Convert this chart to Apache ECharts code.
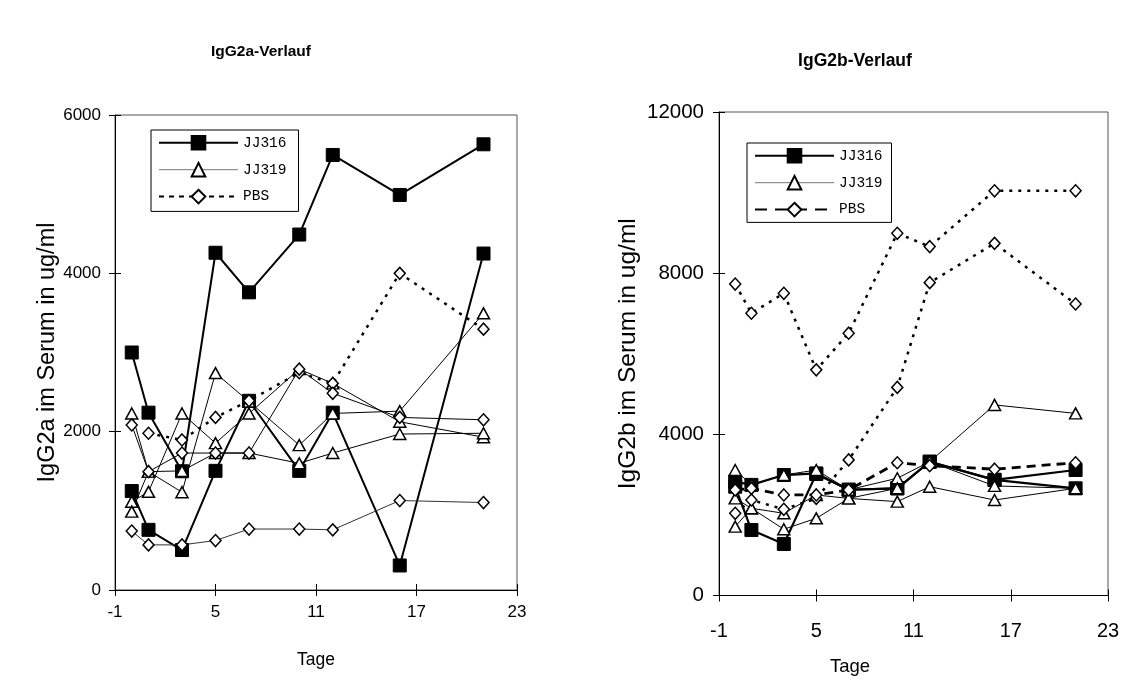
<!DOCTYPE html>
<html>
<head>
<meta charset="utf-8">
<script src="https://cdn.jsdelivr.net/npm/echarts@6/dist/echarts.min.js"></script>
<style>
  html, body { margin: 0; padding: 0; background: #fff; }
  #chart { width: 1130px; height: 684px; }
</style>
</head>
<body>
<div id="chart"></div>
<script>
// Sampling days (Tage)
const days = [0, 1, 3, 5, 7, 10, 12, 16, 21];

// IgG2a serum levels (ug/ml), one array per animal
const a_JJ316_1 = [3000, 2240, 1500, 4260, 3760, 4490, 5495, 4990, 5630];
const a_JJ316_2 = [1250, 760, 505, 1505, 2390, 1505, 2240, 310, 4250];
const a_JJ319_1 = [2230, 1495, 1235, 2740, 2380, 1830, 2230, 2260, 3495];
const a_JJ319_2 = [1115, 1240, 2230, 1855, 2230, 2790, 2610, 2125, 1930];
const a_JJ319_3 = [990, 1495, 1505, 1730, 1730, 1600, 1730, 1970, 1980];
const a_PBS_1 = [null, 1980, 1895, 2180, 2390, 2745, 2610, 4000, 3295];
const a_PBS_2 = [2085, 1495, 1730, 1730, 1730, 2790, 2485, 2180, 2150];
const a_PBS_3 = [745, 570, 570, 625, 770, 770, 760, 1130, 1105];

// IgG2b serum levels (ug/ml), one array per animal
const b_JJ316_1 = [2700, 1625, 1280, 3015, 2625, 2660, 3320, 2870, 3115];
const b_JJ316_2 = [2825, 2745, 2990, 3030, 2625, 2660, 3320, 2870, 2660];
const b_JJ319_1 = [3115, 2745, 2990, 3115, 2625, 2910, 3320, 4730, 4520];
const b_JJ319_2 = [2410, 2165, 2040, 2495, 2410, 2660, 3320, 2720, 2660];
const b_JJ319_3 = [1710, 2165, 1645, 1915, 2410, 2330, 2700, 2370, 2660];
const b_PBS_1 = [7730, 7005, 7500, 5600, 6510, 8990, 8660, 10045, 10045];
const b_PBS_2 = [2040, 2370, 2140, 2410, 3365, 5165, 7765, 8740, 7235];
const b_PBS_3 = [2620, 2660, 2495, 2495, 2620, 3295, 3220, 3135, 3295];

// Axis ranges
const xRange = { min: -1, max: 23, step: 6 };
const yRangeA = { min: 0, max: 6000, step: 2000 };
const yRangeB = { min: 0, max: 12000, step: 4000 };

const groups = ['JJ316', 'JJ319', 'PBS'];
const titles = ['IgG2a-Verlauf', 'IgG2b-Verlauf'];
const yNames = ['IgG2a im Serum in ug/ml', 'IgG2b im Serum in ug/ml'];
const xName = 'Tage';

const SANS = 'Liberation Sans, Arial, sans-serif';
const MONO = 'Liberation Mono, Courier New, monospace';

const markers = {
  JJ316: { symbol: 'rect', symbolSize: 13, itemStyle: { color: '#000', borderColor: '#000', borderWidth: 1 } },
  JJ319: { symbol: 'triangle', symbolSize: [12, 11], itemStyle: { color: '#fff', borderColor: '#000', borderWidth: 1.5 } },
  PBS:   { symbol: 'diamond', symbolSize: [11, 12], itemStyle: { color: '#fff', borderColor: '#000', borderWidth: 1.5 } }
};

function points(vals) { return days.map((d, i) => [d, vals[i]]); }

function line(name, vals, axis, lineStyle) {
  const m = markers[name];
  return {
    type: 'line', name: name,
    xAxisIndex: axis, yAxisIndex: axis,
    data: points(vals),
    symbol: m.symbol, symbolSize: m.symbolSize,
    showAllSymbol: true,
    itemStyle: m.itemStyle,
    lineStyle: Object.assign({ color: '#000' }, lineStyle),
    connectNulls: false,
    silent: true, animation: false,
    emphasis: { disabled: true }
  };
}

const dotted = [3, 6];

const series = [
  // IgG2a panel
  line('JJ316', a_JJ316_1, 0, { width: 2 }),
  line('JJ316', a_JJ316_2, 0, { width: 2 }),
  line('JJ319', a_JJ319_1, 0, { width: 1 }),
  line('JJ319', a_JJ319_2, 0, { width: 1 }),
  line('JJ319', a_JJ319_3, 0, { width: 1 }),
  line('PBS', a_PBS_1, 0, { width: 2.5, type: dotted }),
  line('PBS', a_PBS_2, 0, { width: 1 }),
  line('PBS', a_PBS_3, 0, { width: 1, color: '#333' }),
  // IgG2b panel
  line('JJ316', b_JJ316_1, 1, { width: 2.2 }),
  line('JJ316', b_JJ316_2, 1, { width: 2.2 }),
  line('JJ319', b_JJ319_1, 1, { width: 1 }),
  line('JJ319', b_JJ319_2, 1, { width: 1 }),
  line('JJ319', b_JJ319_3, 1, { width: 1 }),
  line('PBS', b_PBS_1, 1, { width: 2.5, type: dotted }),
  line('PBS', b_PBS_2, 1, { width: 2.5, type: dotted }),
  line('PBS', b_PBS_3, 1, { width: 2.8, type: [9, 6] })
];

const plainNumber = v => String(v);

// main axes (labels, outward ticks) and companion axes (inward ticks) so ticks cross the axis line
function xAxis(grid, main, labelSize, labelMargin, nameGap, nameSize, nameShift) {
  return {
    type: 'value', gridIndex: grid, position: 'bottom',
    min: xRange.min, max: xRange.max, interval: xRange.step,
    axisLine: { show: main, onZero: false, lineStyle: { color: '#000', width: 1 } },
    axisTick: { show: true, inside: !main, length: 6, lineStyle: { color: '#000', width: 1 } },
    axisLabel: { show: main, color: '#000', fontFamily: SANS, fontSize: labelSize, margin: labelMargin, formatter: plainNumber },
    splitLine: { show: false },
    name: main ? xName : '', nameLocation: 'middle', nameGap: nameGap,
    nameTextStyle: { color: '#000', fontFamily: SANS, fontSize: nameSize, padding: [0, nameShift, 0, 0] }
  };
}
function yAxis(grid, main, range, labelSize, labelMargin, nameGap, nameSize) {
  return {
    type: 'value', gridIndex: grid, position: 'left',
    min: range.min, max: range.max, interval: range.step,
    axisLine: { show: main, onZero: false, lineStyle: { color: '#000', width: 1 } },
    axisTick: { show: true, inside: !main, length: 6, lineStyle: { color: '#000', width: 1 } },
    axisLabel: { show: main, color: '#000', fontFamily: SANS, fontSize: labelSize, margin: labelMargin, formatter: plainNumber },
    splitLine: { show: false },
    name: main ? yNames[grid] : '', nameLocation: 'middle', nameGap: nameGap, nameRotate: 90,
    nameTextStyle: { color: '#000', fontFamily: SANS, fontSize: nameSize }
  };
}

function legend(left, top, padding, gap, pbsDash) {
  return {
    orient: 'vertical', left: left, top: top,
    padding: padding, itemGap: gap,
    itemWidth: 79, itemHeight: 17,
    borderColor: '#000', borderWidth: 1, backgroundColor: '#fff',
    selectedMode: false,
    textStyle: { fontFamily: MONO, fontSize: 14.5, color: '#000' },
    data: [
      { name: groups[0], lineStyle: { width: 2, color: '#000', type: 'solid' } },
      { name: groups[1], lineStyle: { width: 1, color: '#777', type: 'solid' } },
      { name: groups[2], lineStyle: { width: 2, color: '#000', type: pbsDash } }
    ]
  };
}

const option = {
  backgroundColor: '#fff',
  animation: false,
  title: [
    { text: titles[0], left: 256, top: 39, textAlign: 'center',
      textStyle: { fontFamily: SANS, fontWeight: 'bold', fontSize: 15.5, color: '#000' } },
    { text: titles[1], left: 850, top: 47, textAlign: 'center',
      textStyle: { fontFamily: SANS, fontWeight: 'bold', fontSize: 17.5, color: '#000' } }
  ],
  grid: [
    { left: 115, top: 115, width: 402, height: 475, show: true, borderColor: '#555', borderWidth: 1, backgroundColor: 'transparent' },
    { left: 719, top: 112, width: 389, height: 483.5, show: true, borderColor: '#555', borderWidth: 1, backgroundColor: 'transparent' }
  ],
  xAxis: [
    xAxis(0, true, 17, 14, 61, 17.5, 0),
    xAxis(1, true, 20, 26, 62, 18.5, 127),
    xAxis(0, false, 17, 14, 61, 17.5, 0),
    xAxis(1, false, 20, 26, 62, 18.5, 0)
  ],
  yAxis: [
    yAxis(0, true, yRangeA, 17, 14, 55, 23.5),
    yAxis(1, true, yRangeB, 20.5, 15, 78, 24.5),
    yAxis(0, false, yRangeA, 17, 14, 55, 23.5),
    yAxis(1, false, yRangeB, 20.5, 15, 78, 24.5)
  ],
  legend: [
    legend(151, 130, [5, 12, 7, 7], 11.3, [5, 5]),
    legend(747, 143, [5, 9, 5, 7], 11.3, [12, 8])
  ],
  series: series
};

const chart = echarts.init(document.getElementById('chart'), null, { renderer: 'canvas' });
chart.setOption(option);
</script>
</body>
</html>
